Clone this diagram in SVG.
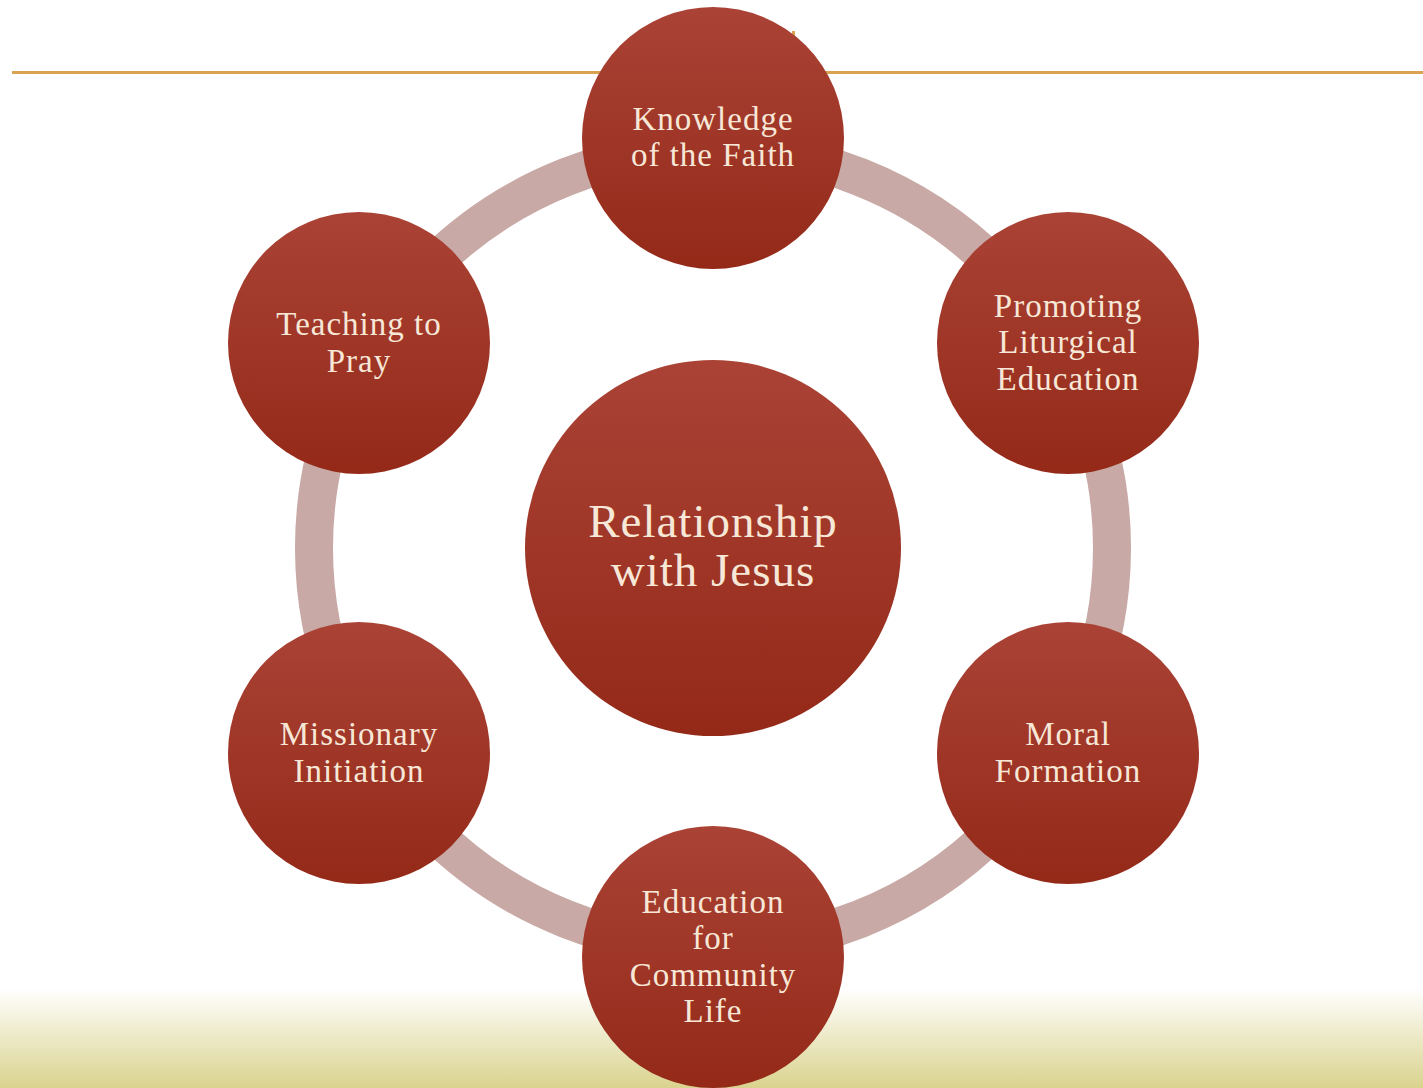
<svg xmlns="http://www.w3.org/2000/svg" width="1423" height="1088" viewBox="0 0 1423 1088">
<defs>
<linearGradient id="red" x1="0" y1="0" x2="0" y2="1">
<stop offset="0" stop-color="#aa4336"/>
<stop offset="1" stop-color="#942918"/>
</linearGradient>
<linearGradient id="ground" x1="0" y1="0" x2="0" y2="1">
<stop offset="0" stop-color="#ffffff"/>
<stop offset="1" stop-color="#dad38e"/>
</linearGradient>
<style>
.node{fill:url(#red)}
.lbl{font-family:"Liberation Serif","DejaVu Serif",serif;font-size:33px;letter-spacing:1px;fill:#f7e7d7;text-anchor:middle}
.big{font-family:"Liberation Serif","DejaVu Serif",serif;font-size:47px;letter-spacing:1px;fill:#f7e7d7;text-anchor:middle}
</style>
</defs>
<rect width="1423" height="1088" fill="#ffffff"/>
<rect x="0" y="988" width="1423" height="100" fill="url(#ground)"/>
<rect x="12" y="71" width="1411" height="3" fill="#d9a352"/>
<rect x="792" y="31" width="3" height="5" fill="#d9a352"/>
<g id="connectors">
<circle cx="713" cy="548" r="399" fill="none" stroke="#c8a9a5" stroke-width="38"/>
</g>
<g id="center">
<circle class="node" cx="713" cy="548" r="188"/>
<text class="big" x="713" y="537">Relationship</text>
<text class="big" x="713" y="586">with Jesus</text>
</g>
<g id="knowledge">
<circle class="node" cx="713" cy="138" r="131"/>
<text class="lbl" x="713" y="130">Knowledge</text>
<text class="lbl" x="713" y="166">of the Faith</text>
</g>
<g id="liturgical">
<circle class="node" cx="1068" cy="343" r="131"/>
<text class="lbl" x="1068" y="317">Promoting</text>
<text class="lbl" x="1068" y="353">Liturgical</text>
<text class="lbl" x="1068" y="390">Education</text>
</g>
<g id="moral">
<circle class="node" cx="1068" cy="753" r="131"/>
<text class="lbl" x="1068" y="745">Moral</text>
<text class="lbl" x="1068" y="782">Formation</text>
</g>
<g id="community">
<circle class="node" cx="713" cy="957" r="131"/>
<text class="lbl" x="713" y="913">Education</text>
<text class="lbl" x="713" y="949">for</text>
<text class="lbl" x="713" y="986">Community</text>
<text class="lbl" x="713" y="1022">Life</text>
</g>
<g id="missionary">
<circle class="node" cx="359" cy="753" r="131"/>
<text class="lbl" x="359" y="745">Missionary</text>
<text class="lbl" x="359" y="782">Initiation</text>
</g>
<g id="pray">
<circle class="node" cx="359" cy="343" r="131"/>
<text class="lbl" x="359" y="335">Teaching to</text>
<text class="lbl" x="359" y="372">Pray</text>
</g>
</svg>
